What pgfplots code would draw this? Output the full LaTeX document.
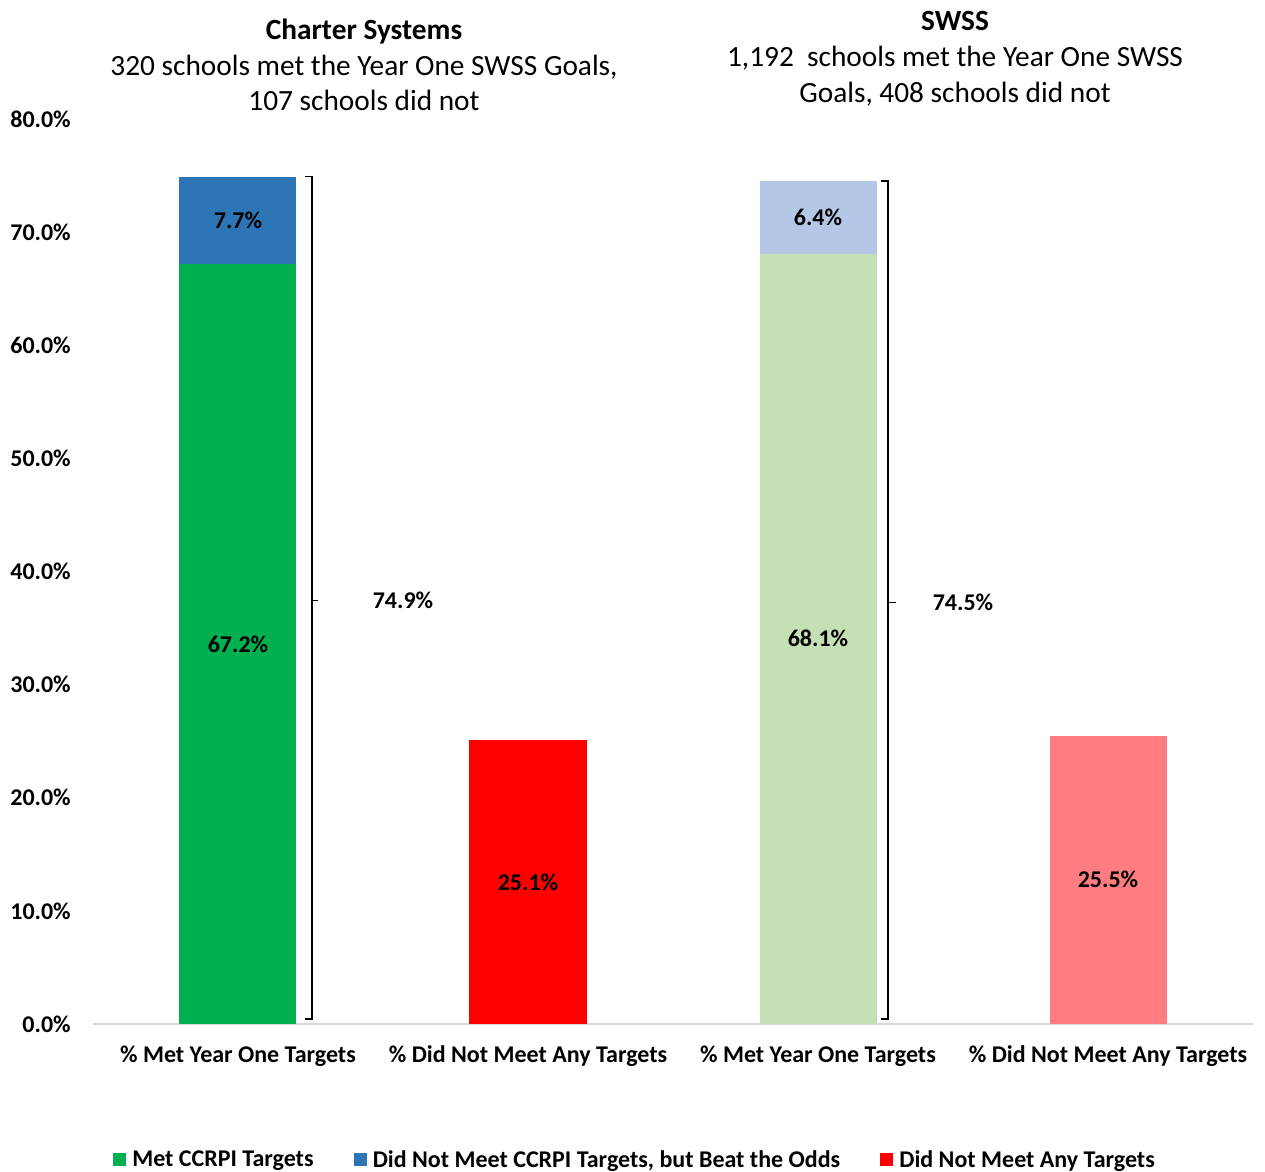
\documentclass[border=0pt]{standalone}
\usepackage{pgfplots}
\pgfplotsset{compat=1.18}
\usepackage{fontspec}
\setmainfont{Carlito}
\definecolor{cgreen}{HTML}{00B050}
\definecolor{cblue}{HTML}{2E75B6}
\definecolor{cred}{HTML}{FF0000}
\definecolor{lgreen}{HTML}{C5E0B4}
\definecolor{lblue}{HTML}{B4C7E7}
\definecolor{lred}{HTML}{FF7C80}
\definecolor{axgray}{HTML}{D9D9D9}
\tikzset{lab/.style={font=\bfseries\fontsize{18}{21.6}\selectfont}}
\begin{document}
\begin{tikzpicture}
\useasboundingbox (0,0) rectangle (948.75pt,879pt);
\begin{axis}[
  at={(69.75pt,111pt)}, anchor=south west,
  scale only axis, width=870pt, height=678.75pt,
  xmin=-0.5, xmax=3.5, ymin=0, ymax=80,
  ybar stacked, bar width=87.75pt,
  axis x line*=bottom, axis y line*=left,
  x axis line style={draw=axgray, line width=1.5pt},
  y axis line style={draw=none},
  major tick length=0pt,
  xtick={0,1,2,3},
  xticklabels={\% Met Year One Targets,\% Did Not Meet Any Targets,\% Met Year One Targets,\% Did Not Meet Any Targets},
  ytick={0,10,20,30,40,50,60,70,80},
  yticklabels={0.0\%,10.0\%,20.0\%,30.0\%,40.0\%,50.0\%,60.0\%,70.0\%,80.0\%},
  tick label style={font=\bfseries\fontsize{18}{21.6}\selectfont},
  yticklabel style={anchor=east, inner sep=0pt, xshift=-16.5pt},
  xticklabel style={anchor=base, inner sep=0pt, yshift=-29pt},
  legend style={at={(0.4675,-0.150)}, anchor=center, draw=none, legend columns=3,
    /tikz/every odd column/.append style={column sep=3pt},
    /tikz/every even column/.append style={column sep=28pt},
    font=\bfseries\fontsize{18}{21.6}\selectfont},
  legend cell align=left,
]
\addlegendimage{legend image code/.code={\fill[cgreen] (0pt,-4.5pt) rectangle (9pt,4.5pt);}}
\addlegendimage{legend image code/.code={\fill[cblue] (0pt,-4.5pt) rectangle (9pt,4.5pt);}}
\addlegendimage{legend image code/.code={\fill[cred] (0pt,-4.5pt) rectangle (9pt,4.5pt);}}
\addplot[fill=cgreen, draw=none] coordinates {(0,67.2) (1,0) (2,0) (3,0)};
\addplot[fill=lgreen, draw=none] coordinates {(0,0) (1,0) (2,68.1) (3,0)};
\addplot[fill=cblue, draw=none] coordinates {(0,7.7) (1,0) (2,0) (3,0)};
\addplot[fill=lblue, draw=none] coordinates {(0,0) (1,0) (2,6.4) (3,0)};
\addplot[fill=cred, draw=none] coordinates {(0,0) (1,25.1) (2,0) (3,0)};
\addplot[fill=lred, draw=none] coordinates {(0,0) (1,0) (2,0) (3,25.5)};
\legend{Met CCRPI Targets, {Did Not Meet CCRPI Targets, but Beat the Odds}, Did Not Meet Any Targets}
\coordinate (l1) at (axis cs:0,33.6);
\coordinate (l2) at (axis cs:0,71.05);
\coordinate (l3) at (axis cs:1,12.55);
\coordinate (l4) at (axis cs:2,34.05);
\coordinate (l5) at (axis cs:2,71.3);
\coordinate (l6) at (axis cs:3,12.75);
\draw[black, line width=1.1pt] (axis cs:0.231,74.9) -- (axis cs:0.255,74.9) -- (axis cs:0.255,0.45) -- (axis cs:0.231,0.45);
\draw[black, line width=1.1pt] (axis cs:0.255,37.45) -- (axis cs:0.276,37.45);
\node[lab] at (axis cs:0.569,37.45) {74.9\%};
\draw[black, line width=1.1pt] (axis cs:2.217,74.5) -- (axis cs:2.241,74.5) -- (axis cs:2.241,0.45) -- (axis cs:2.217,0.45);
\draw[black, line width=1.1pt] (axis cs:2.241,37.25) -- (axis cs:2.269,37.25);
\node[lab] at (axis cs:2.5,37.25) {74.5\%};
\end{axis}
\node[lab] at (l1) {67.2\%};
\node[lab] at (l2) {7.7\%};
\node[lab] at (l3) {25.1\%};
\node[lab] at (l4) {68.1\%};
\node[lab] at (l5) {6.4\%};
\node[lab] at (l6) {25.5\%};
\begin{scope}[x=0.75pt,y=-0.75pt,yshift=879pt]
\node[anchor=base, inner sep=0pt, font=\bfseries\fontsize{22}{26}\selectfont] at (364,40) {Charter Systems};
\node[anchor=base, inner sep=0pt, font=\fontsize{22}{26}\selectfont] at (364,76) {320 schools met the Year One SWSS Goals,};
\node[anchor=base, inner sep=0pt, font=\fontsize{22}{26}\selectfont] at (364,111) {107 schools did not};
\node[anchor=base, inner sep=0pt, font=\bfseries\fontsize{22}{26}\selectfont] at (955,31) {SWSS};
\node[anchor=base, inner sep=0pt, font=\fontsize{22}{26}\selectfont] at (955,67) {1,192~ schools met the Year One SWSS};
\node[anchor=base, inner sep=0pt, font=\fontsize{22}{26}\selectfont] at (955,103) {Goals, 408 schools did not};
\end{scope}
\end{tikzpicture}
\end{document}
